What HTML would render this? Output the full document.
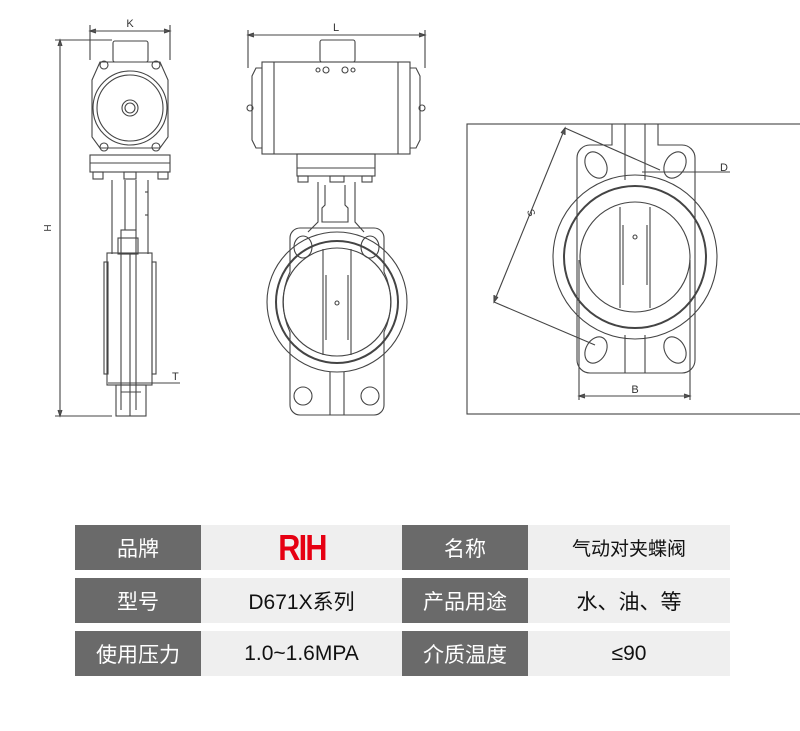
<!DOCTYPE html>
<html><head><meta charset="utf-8"><style>
html,body{margin:0;padding:0;background:#fff;}
body{width:800px;height:731px;position:relative;overflow:hidden;font-family:"Liberation Sans","Noto Sans CJK SC",sans-serif;}
svg{position:absolute;left:0;top:0;}
.c{position:absolute;display:flex;align-items:center;justify-content:center;font-size:21px;}
.d{background:#6a6a6a;color:#fff;}
.l{background:#efefef;color:#111;}
.rih{display:inline-block;transform:scaleX(0.85);color:#e60012;font-weight:bold;font-size:36px;letter-spacing:-2px;}
</style></head><body>
<svg width="800" height="520" viewBox="0 0 800 520" fill="none" stroke="#444" stroke-width="1.1">
<!-- LEFT VIEW -->
<line x1="90" y1="31" x2="170" y2="31"/><polyline points="96,29 90,31 96,33" fill="#555"/><polyline points="164,29 170,31 164,33" fill="#555"/>
<line x1="90" y1="25" x2="90" y2="60"/><line x1="170" y1="25" x2="170" y2="60"/>
<text x="130" y="27" font-size="11" fill="#333" stroke="none" text-anchor="middle">K</text>
<line x1="55" y1="40" x2="112" y2="40"/><line x1="55" y1="416" x2="112" y2="416"/>
<line x1="60" y1="40" x2="60" y2="416"/><polyline points="58,46 60,40 62,46" fill="#555"/><polyline points="58,410 60,416 62,410" fill="#555"/>
<text x="51" y="228" font-size="10" fill="#333" stroke="none" transform="rotate(-90 51 228)" text-anchor="middle">H</text>
<rect x="113" y="41" width="35" height="21" rx="2"/>
<path d="M100,62 H160 L168,80 V137 L160,148 H100 L92,137 V80 Z"/>
<circle cx="130" cy="108" r="37"/><circle cx="130" cy="108" r="33"/>
<circle cx="130" cy="108" r="8"/><circle cx="130" cy="108" r="5"/>
<circle cx="104" cy="65" r="4"/><circle cx="156" cy="65" r="4"/><circle cx="104" cy="147" r="4"/><circle cx="156" cy="147" r="4"/>
<rect x="90" y="155" width="80" height="17"/><line x1="90" y1="163" x2="170" y2="163"/>
<rect x="93" y="172" width="10" height="7"/><rect x="124" y="172" width="12" height="7"/><rect x="158" y="172" width="10" height="7"/>
<line x1="112" y1="180" x2="112" y2="254"/><line x1="125" y1="180" x2="125" y2="230"/><line x1="136" y1="180" x2="136" y2="230"/><line x1="148" y1="180" x2="148" y2="254"/>
<line x1="148" y1="192" x2="145" y2="192"/><line x1="148" y1="215" x2="145" y2="215"/>
<rect x="121" y="230" width="15" height="24"/><rect x="118" y="238" width="20" height="16"/>
<rect x="107" y="253" width="45" height="132"/><rect x="104" y="262" width="4" height="112"/><rect x="152" y="262" width="4" height="112"/>
<line x1="121" y1="254" x2="121" y2="410"/><line x1="136" y1="254" x2="136" y2="410"/><line x1="130" y1="254" x2="130" y2="416"/>
<line x1="108" y1="383" x2="180" y2="383"/><text x="172" y="380" font-size="11" fill="#333" stroke="none">T</text>
<rect x="116" y="385" width="30" height="31"/><line x1="121" y1="392" x2="141" y2="392"/>
<!-- MIDDLE VIEW -->
<line x1="248" y1="35" x2="425" y2="35"/><polyline points="254,33 248,35 254,37" fill="#555"/><polyline points="419,33 425,35 419,37" fill="#555"/>
<line x1="248" y1="30" x2="248" y2="68"/><line x1="425" y1="30" x2="425" y2="68"/>
<text x="336" y="31" font-size="11" fill="#333" stroke="none" text-anchor="middle">L</text>
<rect x="320" y="40" width="35" height="22" rx="2"/>
<rect x="262" y="62" width="148" height="92"/><line x1="274" y1="62" x2="274" y2="154"/><line x1="398" y1="62" x2="398" y2="154"/>
<path d="M262,68 H256 L252,76 V140 L256,148 H262"/><path d="M410,68 H416 L420,76 V140 L416,148 H410"/>
<circle cx="250" cy="108" r="3"/><circle cx="422" cy="108" r="3"/>
<circle cx="318" cy="70" r="2"/><circle cx="326" cy="70" r="3"/><circle cx="345" cy="70" r="3"/><circle cx="353" cy="70" r="2"/>
<rect x="297" y="154" width="78" height="22"/><line x1="297" y1="168" x2="375" y2="168"/>
<rect x="298" y="176" width="10" height="6"/><rect x="330" y="176" width="14" height="6"/><rect x="362" y="176" width="10" height="6"/>
<path d="M318,182 V222 L308,232 M355,182 V222 L364,232"/>
<path d="M325,185 V205 L322,208 V222 H348 V208 L345,205 V185"/>
<path d="M300,228 H374 A10,10 0 0 1 384,238 V272 A70,70 0 0 1 384,332 V405 A10,10 0 0 1 374,415 H300 A10,10 0 0 1 290,405 V332 A70,70 0 0 1 290,272 V238 A10,10 0 0 1 300,228 Z"/>
<ellipse cx="303" cy="247" rx="9" ry="11"/><ellipse cx="370" cy="247" rx="9" ry="11"/>
<ellipse cx="303" cy="396" rx="9" ry="9"/><ellipse cx="370" cy="396" rx="9" ry="9"/>
<circle cx="337" cy="302" r="70"/><circle cx="337" cy="302" r="61" stroke-width="2"/><circle cx="337" cy="302" r="54"/>
<line x1="323" y1="249" x2="323" y2="355"/><line x1="351" y1="249" x2="351" y2="355"/>
<line x1="326" y1="275" x2="326" y2="340"/><line x1="348" y1="275" x2="348" y2="340"/>
<circle cx="337" cy="303" r="2"/>
<line x1="330" y1="372" x2="330" y2="415"/><line x1="344" y1="372" x2="344" y2="415"/>
<!-- RIGHT VIEW -->
<rect x="467" y="124" width="340" height="290"/>
<path d="M612,124 V145 H590 A13,13 0 0 0 577,158 V360 A13,13 0 0 0 590,373 H682 A13,13 0 0 0 695,360 V158 A13,13 0 0 0 682,145 H658 V124"/>
<line x1="625" y1="124" x2="625" y2="180"/><line x1="645" y1="124" x2="645" y2="180"/>
<line x1="625" y1="335" x2="625" y2="373"/><line x1="645" y1="335" x2="645" y2="373"/>
<ellipse cx="596" cy="165" rx="10" ry="14" transform="rotate(-30 596 165)"/><ellipse cx="675" cy="165" rx="10" ry="14" transform="rotate(30 675 165)"/>
<ellipse cx="596" cy="350" rx="10" ry="14" transform="rotate(30 596 350)"/><ellipse cx="675" cy="350" rx="10" ry="14" transform="rotate(-30 675 350)"/>
<circle cx="635" cy="257" r="82"/><circle cx="635" cy="257" r="71" stroke-width="2"/><circle cx="635" cy="257" r="55"/>
<line x1="620" y1="207" x2="620" y2="308"/><line x1="650" y1="207" x2="650" y2="308"/>
<line x1="623" y1="225" x2="623" y2="285"/><line x1="647" y1="225" x2="647" y2="285"/>
<circle cx="635" cy="237" r="2"/>
<line x1="579" y1="260" x2="579" y2="400"/><line x1="690" y1="260" x2="690" y2="400"/>
<line x1="579" y1="396" x2="690" y2="396"/><polyline points="585,394 579,396 585,398" fill="#555"/><polyline points="684,394 690,396 684,398" fill="#555"/>
<text x="635" y="393" font-size="11" fill="#333" stroke="none" text-anchor="middle">B</text>
<line x1="642" y1="172" x2="730" y2="172"/><text x="720" y="171" font-size="11" fill="#333" stroke="none">D</text>
<line x1="565" y1="128" x2="660" y2="170"/><line x1="494" y1="302" x2="595" y2="345"/>
<line x1="565" y1="128" x2="494" y2="302"/><polyline points="561,133 565,128 565,135" fill="#555"/><polyline points="494,295 494,302 498,297" fill="#555"/>
<text x="528" y="214" font-size="10" fill="#333" stroke="none" transform="rotate(68 528 214)" text-anchor="middle">S</text>
</svg>
<div class="c d" style="left:75px;top:525px;width:126px;height:45px;">品牌</div>
<div class="c l" style="left:201px;top:525px;width:201px;height:45px;"><span class="rih">RIH</span></div>
<div class="c d" style="left:402px;top:525px;width:126px;height:45px;">名称</div>
<div class="c l" style="left:528px;top:525px;width:202px;height:45px;font-size:19px;">气动对夹蝶阀</div>
<div class="c d" style="left:75px;top:578px;width:126px;height:45px;">型号</div>
<div class="c l" style="left:201px;top:578px;width:201px;height:45px;">D671X系列</div>
<div class="c d" style="left:402px;top:578px;width:126px;height:45px;">产品用途</div>
<div class="c l" style="left:528px;top:578px;width:202px;height:45px;">水、油、等</div>
<div class="c d" style="left:75px;top:631px;width:126px;height:45px;">使用压力</div>
<div class="c l" style="left:201px;top:631px;width:201px;height:45px;">1.0~1.6MPA</div>
<div class="c d" style="left:402px;top:631px;width:126px;height:45px;">介质温度</div>
<div class="c l" style="left:528px;top:631px;width:202px;height:45px;">≤90</div>
</body></html>
